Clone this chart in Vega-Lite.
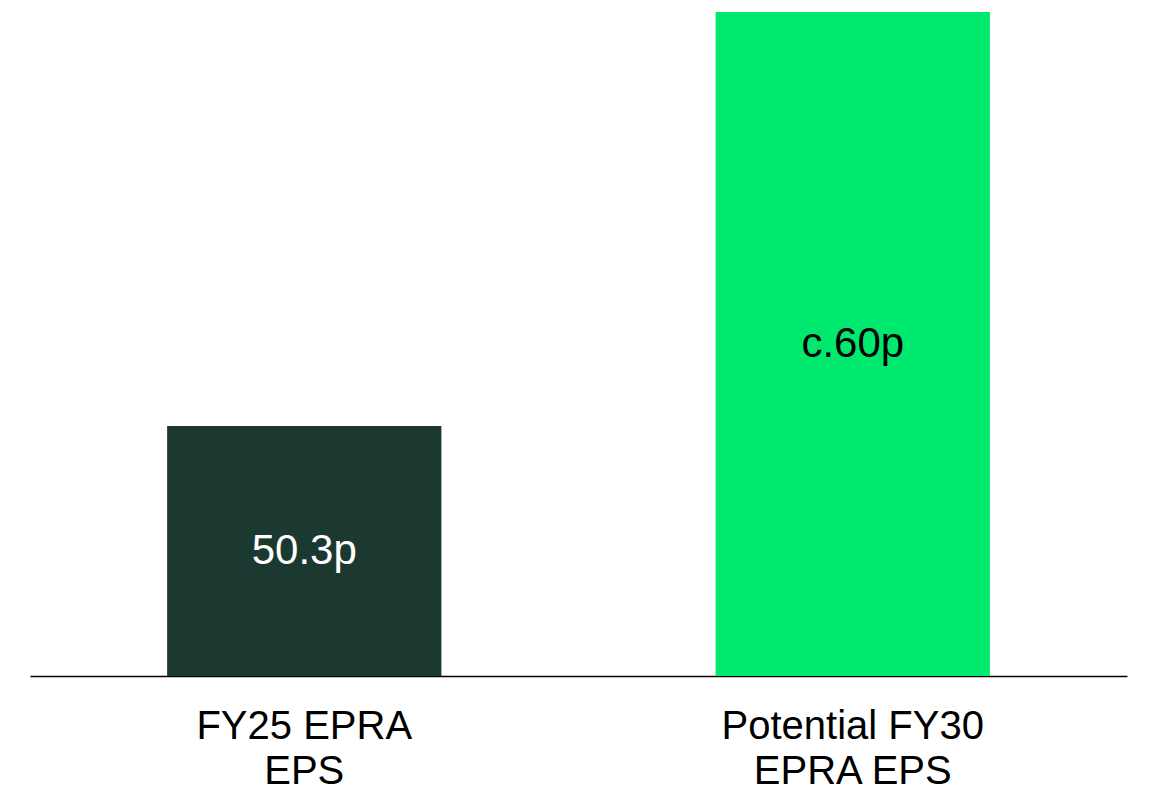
{
  "$schema": "https://vega.github.io/schema/vega-lite/v6.json",
  "width": 1097,
  "height": 664,
  "padding": {"left": 30, "top": 12, "right": 26, "bottom": 116},
  "autosize": {"type": "none"},
  "background": "white",
  "config": {
    "view": {"stroke": null},
    "font": "Liberation Sans",
    "axisX": {
      "domainColor": "black",
      "domainWidth": 1.5,
      "ticks": false,
      "tickSize": 0,
      "labelColor": "black",
      "labelFontSize": 40,
      "labelLineHeight": 45,
      "labelPadding": 30,
      "labelLimit": 0
    }
  },
  "data": {"values": [
    {"category": "FY25 EPRA EPS", "value": 50.3, "label": "50.3p"},
    {"category": "Potential FY30 EPRA EPS", "value": 60, "label": "c.60p"}
  ]},
  "transform": [{"calculate": "(datum.value + 44.44) / 2", "as": "mid"}],
  "encoding": {
    "x": {
      "field": "category",
      "type": "nominal",
      "sort": null,
      "scale": {"paddingInner": 0.5, "paddingOuter": 0.25},
      "axis": {
        "title": null,
        "labelAngle": 0,
        "labelFontSize": 40,
        "labelColor": "black",
        "labelFont": "Liberation Sans",
        "labelLineHeight": 45,
        "labelPadding": 30,
        "labelLimit": 0,
        "ticks": false,
        "domainColor": "black",
        "domainWidth": 1.5,
        "grid": false,
        "labelExpr": "datum.value == 'FY25 EPRA EPS' ? ['FY25 EPRA', 'EPS'] : ['Potential FY30', 'EPRA EPS']"
      }
    }
  },
  "layer": [
    {
      "mark": {"type": "bar", "clip": true},
      "encoding": {
        "y": {"field": "value", "type": "quantitative", "scale": {"domain": [44.44, 60], "zero": false, "nice": false}, "axis": null},
        "color": {"field": "category", "type": "nominal", "scale": {"domain": ["FY25 EPRA EPS", "Potential FY30 EPRA EPS"], "range": ["#1b3831", "#00e96f"]}, "legend": null}
      }
    },
    {
      "mark": {"type": "text", "fontSize": 42, "baseline": "middle", "align": "center", "font": "Liberation Sans"},
      "encoding": {
        "y": {"field": "mid", "type": "quantitative"},
        "text": {"field": "label"},
        "color": {"condition": {"test": "datum.category == 'FY25 EPRA EPS'", "value": "white"}, "value": "black"}
      }
    }
  ]
}
